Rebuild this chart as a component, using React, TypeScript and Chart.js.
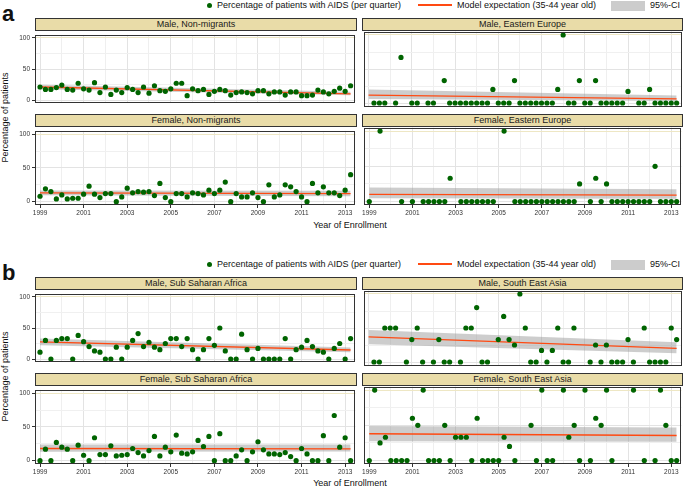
import React, { useEffect, useRef } from 'react';
import { Chart, registerables } from 'chart.js';

Chart.register(...registerables);

// ---------- data ----------
// quarterly enrolment periods 1999 Q1 .. 2013 Q2
const QUARTERS: number[] = Array.from({ length: 58 }, (_, i) => 1999 + i / 4);
const YEAR_TICKS = [1999, 2000, 2001, 2002, 2003, 2004, 2005, 2006, 2007, 2008, 2009, 2010, 2011, 2012, 2013];
const YEAR_LABELS = [1999, 2001, 2003, 2005, 2007, 2009, 2011, 2013];
const PCT_TICKS = [0, 25, 50, 75, 100];
const PCT_LABELS = [0, 50, 100];
const MODEL_X = [1999, 2013.25];

const N = null;

const maleNonMigrants = [21, 17, 17, 20, 24, 17, 16, 27, 18, 16, 28, 12, 21, 9, 16, 12, 20, 17, 12, 21, 11, 23, 15, 14, 18, 27, 27, 7, 18, 15, 17, 9, 14, 17, 15, 8, 12, 13, 12, 10, 15, 15, 10, 13, 13, 8, 13, 13, 7, 7, 8, 16, 13, 10, 14, 19, 14, 23];
const maleNonMigrantsModel = [21, 10];
const maleNonMigrantsUpper = [24.5, 13.5];
const maleNonMigrantsLower = [17.5, 7.5];

const femaleNonMigrants = [8, 19, 15, 4, 10, 4, 5, 5, 11, 23, 11, 6, 12, 12, 0, 7, 20, 13, 15, 14, 15, 9, 27, 6, 0, 12, 12, 7, 13, 12, 10, 17, 12, 17, 29, 0, 12, 7, 7, 13, 6, 0, 25, 7, 10, 25, 22, 15, 7, 0, 27, 13, 22, 13, 13, 9, 17, 40];
const femaleNonMigrantsModel = [13, 12];
const femaleNonMigrantsUpper = [16.5, 16];
const femaleNonMigrantsLower = [9.5, 8];

const maleEasternEurope = [N, 0, 0, 0, N, 0, 67, N, 0, 0, N, 0, 0, N, 33, 0, 0, 0, 0, 0, 0, 0, 0, 20, 0, 0, 0, 33, 0, 0, 0, 0, 0, 0, 0, 20, 100, 0, 0, 33, 0, 0, 33, 0, 0, 0, 0, 0, 17, N, 0, 0, 20, 0, 0, 0, 0, 0];
const maleEasternEuropeModel = [11.5, 6];
const maleEasternEuropeUpper = [20, 11];
const maleEasternEuropeLower = [6, 3];

const femaleEasternEurope = [0, N, 100, N, N, N, 0, N, 0, N, 0, 0, 0, 0, 0, 33, N, 0, 0, 0, 0, 0, 0, 0, N, 100, N, 0, 0, 0, 0, 0, 0, 0, 0, 0, 0, 0, 0, 25, N, 0, 33, 0, 25, 0, 0, 0, 0, 0, 0, 0, 0, 50, 0, 0, 0, 0];
const femaleEasternEuropeModel = [10, 9];
const femaleEasternEuropeUpper = [20, 17.5];
const femaleEasternEuropeLower = [4.5, 4];

const maleSubSaharan = [11, 30, 0, 30, 33, 33, 0, 38, 28, 20, 13, 11, 0, 0, 19, 0, 19, 30, 41, 20, 27, 19, 15, 25, 33, 33, 20, 33, 15, 0, 15, 33, 22, 50, 13, 0, 0, 40, 15, 0, 17, 0, 0, 0, 0, 33, 0, 15, 19, 30, 20, 13, 11, 0, 17, 25, 0, 33];
const maleSubSaharanModel = [27.5, 14.5];
const maleSubSaharanUpper = [33, 18.5];
const maleSubSaharanLower = [22, 11];

const femaleSubSaharan = [0, 17, 0, 27, 20, 17, 0, 23, 8, 0, 34, 9, 9, 22, 7, 8, 9, 18, 12, 7, 15, 36, 7, 20, 13, 38, 11, 10, 13, 30, 21, 36, 0, 40, 0, 0, 7, 16, 0, 13, 28, 16, 10, 10, 9, 12, 6, 0, 18, 10, 0, 0, 37, 0, 67, 20, 34, 0];
const femaleSubSaharanModel = [18, 17.5];
const femaleSubSaharanUpper = [24, 24];
const femaleSubSaharanLower = [13, 13.5];

const maleSouthEastAsia = [N, 0, 0, 50, 50, 50, N, 0, 33, 50, 0, N, 0, 33, 0, 0, N, 0, 50, 50, 80, 0, 0, N, 33, 67, 33, 25, 100, 50, 0, 0, 17, 0, 17, 50, 0, 0, 50, N, N, 0, 25, 0, 25, 0, 0, 0, 33, 0, N, 50, 0, 0, 0, 0, 50, 33];
const maleSouthEastAsiaModel = [37, 20];
const maleSouthEastAsiaUpper = [47, 29];
const maleSouthEastAsiaLower = [26, 13];

const femaleSouthEastAsia = [0, 100, 25, 33, 0, 0, 0, 0, 60, 50, 100, 0, 0, 0, 50, 0, 33, 33, 33, 0, 60, 0, 0, 0, 0, 33, 20, 0, N, N, 50, 0, 100, 0, 0, N, 100, 33, 50, 0, 100, 0, 60, 50, 100, 0, N, N, N, 100, N, 0, N, 0, 100, 50, 0, 0];
const femaleSouthEastAsiaModel = [38, 35.5];
const femaleSouthEastAsiaUpper = [49, 47];
const femaleSouthEastAsiaLower = [27.5, 26.5];

// ---------- styling ----------
const FONT = '"Liberation Sans", Arial, Helvetica, sans-serif';
const GREEN = '#006400';
const RED = '#FF4A12';
const CI_FILL = 'rgba(150,150,150,0.48)';
const STRIP_BG = '#E9DCA8';
const X_MIN = 1998.77;
const X_MAX = 2013.47;

type FacetDef = {
  title: string;
  values: (number | null)[];
  model: number[];
  upper: number[];
  lower: number[];
  col: 0 | 1;
  plotTop: number;
  stripTop: number;
  showX: boolean;
};

const COLS = [
  { canvasLeft: 0, yW: 35, plotLeft: 35, plotW: 322 },
  { canvasLeft: 361, yW: 1, plotLeft: 362, plotW: 321 },
];
const PLOT_H = 79;
const X_AXIS_H = 14;

const FACETS: FacetDef[] = [
  { title: 'Male, Non-migrants', values: maleNonMigrants, model: maleNonMigrantsModel, upper: maleNonMigrantsUpper, lower: maleNonMigrantsLower, col: 0, plotTop: 30, stripTop: 18, showX: false },
  { title: 'Male, Eastern Europe', values: maleEasternEurope, model: maleEasternEuropeModel, upper: maleEasternEuropeUpper, lower: maleEasternEuropeLower, col: 1, plotTop: 30, stripTop: 18, showX: false },
  { title: 'Female, Non-migrants', values: femaleNonMigrants, model: femaleNonMigrantsModel, upper: femaleNonMigrantsUpper, lower: femaleNonMigrantsLower, col: 0, plotTop: 126, stripTop: 114, showX: true },
  { title: 'Female, Eastern Europe', values: femaleEasternEurope, model: femaleEasternEuropeModel, upper: femaleEasternEuropeUpper, lower: femaleEasternEuropeLower, col: 1, plotTop: 126, stripTop: 114, showX: true },
  { title: 'Male, Sub Saharan Africa', values: maleSubSaharan, model: maleSubSaharanModel, upper: maleSubSaharanUpper, lower: maleSubSaharanLower, col: 0, plotTop: 289, stripTop: 277, showX: false },
  { title: 'Male, South East Asia', values: maleSouthEastAsia, model: maleSouthEastAsiaModel, upper: maleSouthEastAsiaUpper, lower: maleSouthEastAsiaLower, col: 1, plotTop: 289, stripTop: 277, showX: false },
  { title: 'Female, Sub Saharan Africa', values: femaleSubSaharan, model: femaleSubSaharanModel, upper: femaleSubSaharanUpper, lower: femaleSubSaharanLower, col: 0, plotTop: 385, stripTop: 373, showX: true },
  { title: 'Female, South East Asia', values: femaleSouthEastAsia, model: femaleSouthEastAsiaModel, upper: femaleSouthEastAsiaUpper, lower: femaleSouthEastAsiaLower, col: 1, plotTop: 385, stripTop: 373, showX: true },
];

const panelBorder = {
  id: 'panelBorder',
  afterDraw(chart: any) {
    const { ctx, chartArea: a } = chart;
    ctx.save();
    ctx.strokeStyle = '#333333';
    ctx.lineWidth = 1;
    ctx.strokeRect(Math.round(a.left) + 0.5, Math.round(a.top) + 0.5, Math.round(a.right - a.left) - 1, Math.round(a.bottom - a.top) - 1);
    ctx.restore();
  },
};

function Facet({ f }: { f: FacetDef }) {
  const ref = useRef<HTMLCanvasElement>(null);
  const col = COLS[f.col];
  const showY = f.col === 0;
  const xH = f.showX ? X_AXIS_H : 0;
  const cw = col.yW + col.plotW + 1;
  const ch = 1 + PLOT_H + xH;

  useEffect(() => {
    const pts = QUARTERS.map((x, i) => ({ x, y: f.values[i] })).filter((p) => p.y !== null && p.y !== undefined);
    const line = MODEL_X.map((x, i) => ({ x, y: f.model[i] }));
    const up = MODEL_X.map((x, i) => ({ x, y: f.upper[i] }));
    const lo = MODEL_X.map((x, i) => ({ x, y: f.lower[i] }));
    const chart = new Chart(ref.current as HTMLCanvasElement, {
      type: 'line',
      data: {
        datasets: [
          { data: pts as any, showLine: false, pointRadius: 2.6, pointBackgroundColor: GREEN, pointBorderWidth: 0, pointHoverRadius: 0 },
          { data: line as any, borderColor: RED, borderWidth: 1.3, pointRadius: 0, fill: false },
          { data: up as any, borderWidth: 0, borderColor: 'rgba(0,0,0,0)', pointRadius: 0, fill: '+1', backgroundColor: CI_FILL },
          { data: lo as any, borderWidth: 0, borderColor: 'rgba(0,0,0,0)', pointRadius: 0, fill: false },
        ],
      },
      options: {
        animation: false,
        responsive: false,
        maintainAspectRatio: false,
        devicePixelRatio: 1,
        events: [],
        layout: { padding: { top: 1, right: 1, left: 0, bottom: 0 } },
        plugins: { legend: { display: false }, tooltip: { enabled: false }, title: { display: false } },
        scales: {
          x: {
            type: 'linear',
            min: X_MIN,
            max: X_MAX,
            afterBuildTicks: (s: any) => {
              s.ticks = YEAR_TICKS.map((v) => ({ value: v }));
            },
            afterFit: (s: any) => {
              s.height = xH;
            },
            border: { display: false },
            grid: {
              color: (c: any) => (c.tick && c.tick.value % 2 === 1 ? '#E3E3E3' : '#EFEFEF'),
              lineWidth: 1,
              drawTicks: f.showX,
              tickLength: 3,
              tickColor: (c: any) => (c.tick && c.tick.value % 2 === 1 ? '#333333' : 'rgba(0,0,0,0)'),
            },
            ticks: {
              display: f.showX,
              autoSkip: false,
              maxRotation: 0,
              minRotation: 0,
              padding: 1,
              color: '#333333',
              font: { family: FONT, size: 6.5 },
              callback: (v: any) => (YEAR_LABELS.includes(Number(v)) ? String(v) : ''),
            },
          },
          y: {
            type: 'linear',
            min: -5,
            max: 105,
            afterBuildTicks: (s: any) => {
              s.ticks = PCT_TICKS.map((v) => ({ value: v }));
            },
            afterFit: (s: any) => {
              s.width = col.yW;
            },
            border: { display: false },
            grid: {
              color: (c: any) => {
                const v = c.tick ? c.tick.value : 0;
                if (v === 100) return '#EEE7C4';
                return v % 50 === 0 ? '#E3E3E3' : '#F0F0F0';
              },
              lineWidth: 1,
              drawTicks: showY,
              tickLength: 3,
              tickColor: (c: any) => (c.tick && c.tick.value % 50 === 0 ? '#333333' : 'rgba(0,0,0,0)'),
            },
            ticks: {
              display: showY,
              padding: 2,
              color: '#333333',
              font: { family: FONT, size: 6.5 },
              callback: (v: any) => (PCT_LABELS.includes(Number(v)) ? String(v) : ''),
            },
          },
        },
      },
      plugins: [panelBorder],
    });
    return () => chart.destroy();
  }, []);

  return (
    <>
      <div
        style={{
          position: 'absolute',
          left: col.plotLeft,
          top: f.stripTop,
          width: col.plotW,
          height: f.plotTop - f.stripTop + 1,
          boxSizing: 'border-box',
          border: '1px solid #333333',
          background: STRIP_BG,
          font: `9px ${FONT}`,
          lineHeight: `${f.plotTop - f.stripTop - 1}px`,
          textAlign: 'center',
          color: '#1A1A1A',
          whiteSpace: 'nowrap',
        }}
      >
        {f.title}
      </div>
      <canvas
        ref={ref}
        width={cw}
        height={ch}
        style={{ position: 'absolute', left: col.canvasLeft, top: f.plotTop - 1, width: cw, height: ch }}
      />
    </>
  );
}

function Text({ x, baseline, size, children, anchor = 'start', bold = false }: any) {
  const top = baseline - 0.85 * size;
  return (
    <div
      style={{
        position: 'absolute',
        left: x,
        top,
        font: `${bold ? 'bold ' : ''}${size}px ${FONT}`,
        lineHeight: `${size}px`,
        whiteSpace: 'nowrap',
        color: '#111111',
        transform: anchor === 'middle' ? 'translateX(-50%)' : undefined,
      }}
    >
      {children}
    </div>
  );
}

function Legend({ dy }: { dy: number }) {
  return (
    <>
      <div style={{ position: 'absolute', left: 207, top: dy + 3, width: 5, height: 5, borderRadius: '50%', background: GREEN }} />
      <Text x={217} baseline={dy + 8.3} size={9}>Percentage of patients with AIDS (per quarter)</Text>
      <div style={{ position: 'absolute', left: 418, top: dy + 4, width: 34, height: 2, background: RED }} />
      <Text x={457} baseline={dy + 8.3} size={9}>Model expectation (35-44 year old)</Text>
      <div style={{ position: 'absolute', left: 611, top: dy + 1, width: 34, height: 9.5, background: '#CCCCCC' }} />
      <Text x={650} baseline={dy + 8.3} size={9}>95%-CI</Text>
    </>
  );
}

function YTitle({ cy }: { cy: number }) {
  return (
    <div
      style={{
        position: 'absolute',
        left: 4.5 - 60,
        top: cy - 4.5,
        width: 120,
        height: 9,
        font: `9px ${FONT}`,
        lineHeight: '9px',
        textAlign: 'center',
        whiteSpace: 'nowrap',
        color: '#111111',
        transform: 'rotate(-90deg)',
      }}
    >
      Percentage of patients
    </div>
  );
}

export default function App() {
  useEffect(() => {
    document.body.style.margin = '0';
  }, []);
  return (
    <div style={{ position: 'absolute', left: 0, top: 0, width: 685, height: 487, background: '#FFFFFF', overflow: 'hidden' }}>
      <Text x={2} baseline={22} size={22} bold>a</Text>
      <Text x={2} baseline={281} size={22} bold>b</Text>
      <Legend dy={0} />
      <Legend dy={259} />
      <YTitle cy={117.5} />
      <YTitle cy={376.5} />
      <Text x={350} baseline={228.5} size={9} anchor="middle">Year of Enrollment</Text>
      <Text x={350} baseline={486.5} size={9} anchor="middle">Year of Enrollment</Text>
      {FACETS.map((f) => (
        <Facet key={f.title} f={f} />
      ))}
    </div>
  );
}
